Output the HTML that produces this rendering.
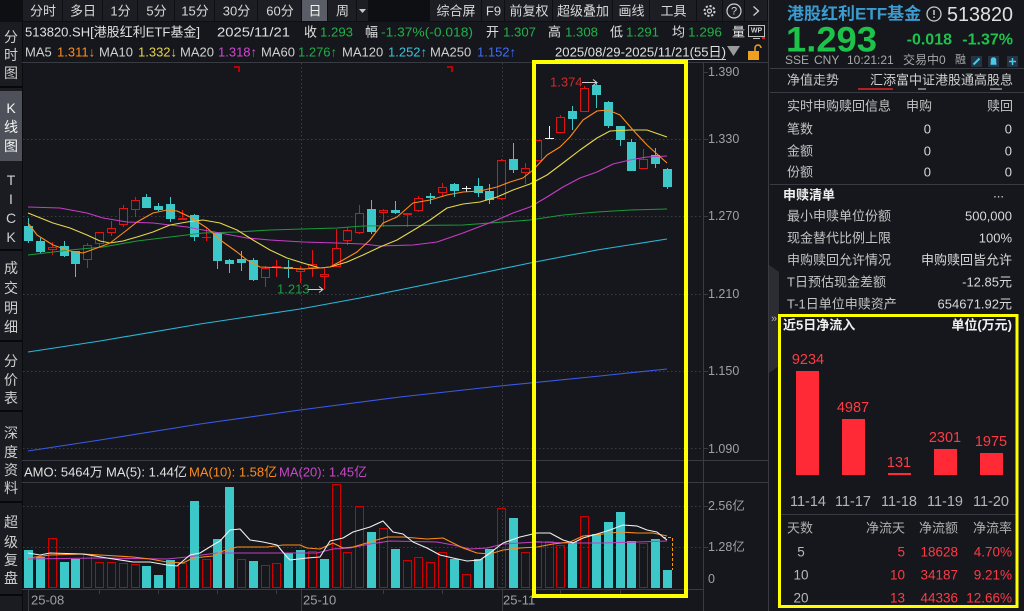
<!DOCTYPE html>
<html><head><meta charset="utf-8">
<style>
html,body{margin:0;padding:0;background:#15171c;overflow:hidden;}
svg{display:block;}
text{font-family:"Liberation Sans","Noto Sans CJK SC",sans-serif;dominant-baseline:central;}
.tb{font-size:13px;fill:#d8d8d8;text-anchor:middle;}
.sb{font-size:14px;fill:#cfcfcf;text-anchor:middle;}
.h{font-size:13px;fill:#e0e0e0;}
.g{fill:#22b04a;}
.ax{font-size:12.5px;fill:#9da0a8;}
.rp{font-size:13px;fill:#c4c4c4;}
.rv{font-size:13px;fill:#d8d8d8;text-anchor:end;}
.red{fill:#ff3a45;}
.grid{stroke:#3a3d45;stroke-width:1;stroke-dasharray:1.5 2.5;fill:none;}
.ln{stroke:#383b42;stroke-width:1;fill:none;}
.cw{stroke:#3cc8c8;stroke-width:1;fill:none;}
.cf{fill:#3cc8c8;}
.rw{stroke:#e01414;stroke-width:1;fill:none;}
.rf{stroke:#e01414;stroke-width:1;fill:#15171c;}
.vr{stroke:#d00000;stroke-width:1;fill:none;}
.ma{fill:none;stroke-width:1.1;stroke-linejoin:round;}
</style></head><body>
<svg width="1024" height="611" viewBox="0 0 1024 611" xmlns="http://www.w3.org/2000/svg">
<rect width="1024" height="611" fill="#15171c"/>

<!-- toolbar -->
<rect x="0" y="0" width="768" height="22" fill="#0e0f12"/>
<g fill="#1c1e23">
<rect x="23" y="0" width="39" height="21"/>
<rect x="63" y="0" width="39" height="21"/>
<rect x="103" y="0" width="34" height="21"/>
<rect x="138" y="0" width="36" height="21"/>
<rect x="175" y="0" width="39" height="21"/>
<rect x="215" y="0" width="42" height="21"/>
<rect x="258" y="0" width="43" height="21"/>
<rect x="328" y="0" width="28" height="21"/>
<rect x="357" y="0" width="11" height="21"/>
<rect x="430" y="0" width="51" height="21"/>
<rect x="482" y="0" width="22" height="21"/>
<rect x="505" y="0" width="47" height="21"/>
<rect x="553" y="0" width="59" height="21"/>
<rect x="613" y="0" width="36" height="21"/>
<rect x="650" y="0" width="46" height="21"/>
<rect x="697" y="0" width="25" height="21"/>
<rect x="723" y="0" width="21" height="21"/>
<rect x="745" y="0" width="22" height="21"/>
</g>
<rect x="302" y="0" width="25" height="21" fill="#5a5d65"/>
<text class="tb" x="43" y="11">分时</text>
<text class="tb" x="83" y="11">多日</text>
<text class="tb" x="120.5" y="11">1分</text>
<text class="tb" x="156.5" y="11">5分</text>
<text class="tb" x="195" y="11">15分</text>
<text class="tb" x="236.5" y="11">30分</text>
<text class="tb" x="280" y="11">60分</text>
<text class="tb" x="315" y="11" style="fill:#f2f2f2">日</text>
<text class="tb" x="342.5" y="11">周</text>
<path d="M359 9H366L362.5 13Z" fill="#c8c8c8"/>
<text class="tb" x="456" y="11">综合屏</text>
<text class="tb" x="493.5" y="11">F9</text>
<text class="tb" x="529" y="11">前复权</text>
<text class="tb" x="583" y="11">超级叠加</text>
<text class="tb" x="631.5" y="11">画线</text>
<text class="tb" x="673.5" y="11">工具</text>
<circle cx="709.5" cy="11" r="5" fill="none" stroke="#d0d0d0" stroke-width="2" stroke-dasharray="2.2 1.7"/>
<circle cx="709.5" cy="11" r="2" fill="none" stroke="#d0d0d0" stroke-width="1.2"/>
<circle cx="734" cy="11" r="7" fill="none" stroke="#d0d0d0" stroke-width="1.2"/>
<text x="734" y="11.5" style="font-size:11px;fill:#d8d8d8;text-anchor:middle">?</text>
<path d="M753.5 6.5L758.5 11L753.5 15.5" fill="none" stroke="#d0d0d0" stroke-width="1.3"/>

<!-- left sidebar -->
<rect x="0" y="22" width="22" height="589" fill="#1a1c21"/>
<rect x="0" y="91" width="22" height="70" fill="#4e5159"/>
<g stroke="#07080a" stroke-width="2">
<path d="M0 87H22M0 250H22M0 341H22M0 411H22M0 502H22M0 595H22"/>
</g>
<path d="M22.5 22V611" stroke="#0a0b0d" stroke-width="1"/>
<text class="sb" x="11" y="37">分</text><text class="sb" x="11" y="55">时</text><text class="sb" x="11" y="73">图</text>
<text class="sb" x="11" y="108" style="fill:#f4f4f4">K</text><text class="sb" x="11" y="127" style="fill:#f4f4f4">线</text><text class="sb" x="11" y="146" style="fill:#f4f4f4">图</text>
<text class="sb" x="11" y="180">T</text><text class="sb" x="11" y="199">I</text><text class="sb" x="11" y="218">C</text><text class="sb" x="11" y="237">K</text>
<text class="sb" x="11" y="268">成</text><text class="sb" x="11" y="288">交</text><text class="sb" x="11" y="308">明</text><text class="sb" x="11" y="327">细</text>
<text class="sb" x="11" y="361">分</text><text class="sb" x="11" y="380">价</text><text class="sb" x="11" y="398">表</text>
<text class="sb" x="11" y="433">深</text><text class="sb" x="11" y="452">度</text><text class="sb" x="11" y="470">资</text><text class="sb" x="11" y="488">料</text>
<text class="sb" x="11" y="522">超</text><text class="sb" x="11" y="542">级</text><text class="sb" x="11" y="560">复</text><text class="sb" x="11" y="578">盘</text>

<!-- header rows -->
<text class="h" x="25" y="32" textLength="175" lengthAdjust="spacingAndGlyphs">513820.SH[港股红利ETF基金]</text>
<text class="h" x="217" y="32" textLength="73" lengthAdjust="spacingAndGlyphs">2025/11/21</text>
<text class="h" x="304" y="32">收</text><text class="h g" x="320" y="32" textLength="33" lengthAdjust="spacingAndGlyphs">1.293</text>
<text class="h" x="365" y="32">幅</text><text class="h g" x="381" y="32" textLength="92" lengthAdjust="spacingAndGlyphs">-1.37%(-0.018)</text>
<text class="h" x="486" y="32">开</text><text class="h g" x="503" y="32" textLength="33" lengthAdjust="spacingAndGlyphs">1.307</text>
<text class="h" x="548" y="32">高</text><text class="h g" x="565" y="32" textLength="33" lengthAdjust="spacingAndGlyphs">1.308</text>
<text class="h" x="610" y="32">低</text><text class="h g" x="626" y="32" textLength="33" lengthAdjust="spacingAndGlyphs">1.291</text>
<text class="h" x="672" y="32">均</text><text class="h g" x="688" y="32" textLength="34" lengthAdjust="spacingAndGlyphs">1.296</text>
<text class="h" x="732" y="32">量</text>
<rect x="748.5" y="25.5" width="16" height="11" fill="none" stroke="#c0c0c0"/>
<text x="756.5" y="31" style="font-size:7px;fill:#d0d0d0;text-anchor:middle;font-weight:bold">WP</text>
<path d="M753 38.5H760" stroke="#c0c0c0"/>
<rect x="762" y="37" width="3" height="2" fill="#e02020"/>

<text class="h" x="25" y="52" style="fill:#d0d0d0">MA5</text><text class="h" x="57" y="52" style="fill:#ff8c1a">1.311↓</text>
<text class="h" x="99" y="52" style="fill:#d0d0d0">MA10</text><text class="h" x="138" y="52" style="fill:#e8d24a">1.332↓</text>
<text class="h" x="180" y="52" style="fill:#d0d0d0">MA20</text><text class="h" x="218" y="52" style="fill:#d048d0">1.318↑</text>
<text class="h" x="261" y="52" style="fill:#d0d0d0">MA60</text><text class="h" x="298" y="52" style="fill:#1fae48">1.276↑</text>
<text class="h" x="342" y="52" style="fill:#d0d0d0">MA120</text><text class="h" x="388" y="52" style="fill:#38c4de">1.252↑</text>
<text class="h" x="430" y="52" style="fill:#d0d0d0">MA250</text><text class="h" x="477" y="52" style="fill:#3f6cff">1.152↑</text>
<text class="h" x="555" y="52" textLength="171" lengthAdjust="spacingAndGlyphs">2025/08/29-2025/11/21(55日)</text>
<path d="M555 59.5H726" stroke="#d0d0d0"/>
<path d="M727 46H740L733.5 56Z" fill="#9a9a9a"/>
<rect x="748" y="51" width="11" height="9" fill="#f0a020"/>
<path d="M755 51V48A3 3 0 0 1 761 48" fill="none" stroke="#f0a020" stroke-width="1.5"/>

<!-- frame lines -->
<path class="ln" d="M22 62.5H768M22 460.5H768M22 482.5H768M22 589.5H703M703.5 62V611M768.5 0V611"/>

<!-- grid -->
<path class="grid" d="M23 139.5H703M23 216.5H703M23 294.5H703M23 371.5H703M23 448.5H703M23 506.5H703M23 547.5H703"/>
<path class="grid" d="M301.5 63V589M502.5 63V589"/>
<path class="ln" d="M703 139.5H708M703 216.5H708M703 294.5H708M703 371.5H708M703 448.5H708M703 72.5H708M703 506.5H708M703 547.5H708"/>

<!-- axis labels -->
<text class="ax" x="708" y="72">1.390</text>
<text class="ax" x="708" y="139">1.330</text>
<text class="ax" x="708" y="216">1.270</text>
<text class="ax" x="708" y="294">1.210</text>
<text class="ax" x="708" y="371">1.150</text>
<text class="ax" x="708" y="449">1.090</text>
<text class="ax" x="708" y="506">2.56亿</text>
<text class="ax" x="708" y="547">1.28亿</text>
<text class="ax" x="708" y="579">0</text>

<!-- date axis -->
<path class="ln" d="M28.5 589V611M301.5 589V611M502.5 589V611M99.5 589V594M158.5 589V594M217.5 589V594M276.5 589V594M383.5 589V594M442.5 589V594M560.5 589V594M620.5 589V594"/>
<text class="ax" x="31" y="600" style="font-size:13px">25-08</text>
<text class="ax" x="303" y="600" style="font-size:13px">25-10</text>
<text class="ax" x="503" y="600" style="font-size:13px">25-11</text>

<!-- markers -->
<path d="M234 66H240V72H238V68H234Z" fill="#c00000"/>
<path d="M447 66H453V72H451V68H447Z" fill="#c00000"/>

<!-- candles: cyan -->
<path class="cw" d="M28.5 218V243M40.5 238V253M64.5 241V257M75.5 251V277M146.5 194V208M158.5 203V211M170.5 197V222M194.5 214V241M217.5 232V269M229.5 259V273M241.5 251V271M253.5 258V281M288.5 260V278M371.5 200V234M395.5 201V214M430.5 193V204M454.5 183V197M478.5 178V197M489.5 184V204M513.5 143V173M572.5 106V130M596.5 82V108M608.5 101V128M620.5 126V146M631.5 139V171M655.5 148V168M667.5 168V189"/>
<g class="cf">
<rect x="24" y="226" width="9" height="15"/>
<rect x="36" y="241" width="9" height="11"/>
<rect x="60" y="246" width="9" height="10"/>
<rect x="71" y="251" width="9" height="13"/>
<rect x="142" y="197" width="9" height="11"/>
<rect x="154" y="206" width="9" height="4"/>
<rect x="166" y="204" width="9" height="15"/>
<rect x="190" y="215" width="9" height="22"/>
<rect x="213" y="233" width="9" height="28"/>
<rect x="225" y="260" width="9" height="4"/>
<rect x="237" y="259" width="9" height="4"/>
<rect x="249" y="260" width="9" height="20"/>
<rect x="284" y="267" width="9" height="2"/>
<rect x="367" y="209" width="9" height="23"/>
<rect x="391" y="210" width="9" height="3"/>
<rect x="426" y="196" width="9" height="2"/>
<rect x="450" y="184" width="9" height="7"/>
<rect x="474" y="186" width="9" height="7"/>
<rect x="485" y="191" width="9" height="9"/>
<rect x="509" y="159" width="9" height="11"/>
<rect x="568" y="111" width="9" height="8"/>
<rect x="592" y="85" width="9" height="10"/>
<rect x="604" y="102" width="9" height="24"/>
<rect x="616" y="126" width="9" height="14"/>
<rect x="627" y="142" width="9" height="29"/>
<rect x="651" y="155" width="9" height="9"/>
<rect x="663" y="169" width="9" height="18"/>
</g>
<!-- candles: red -->
<path class="rw" d="M52.5 242V255M87.5 243V268M99.5 232V247M111.5 221V236M123.5 205V227M135.5 197V217M182.5 210V220M206.5 227V241M265.5 266V287M276.5 260V277M300.5 266V283M312.5 250V277M324.5 268V289M336.5 229V267M347.5 227V245M359.5 205V234M383.5 209V227M407.5 213V227M418.5 196V212M442.5 183V197M501.5 159V200M525.5 163V184M537.5 140V162M560.5 115V133M584.5 86V112M643.5 149V169M202 237.5H211"/>
<g class="rf">
<rect x="48.5" y="247.5" width="8" height="2"/>
<rect x="83.5" y="245.5" width="8" height="14"/>
<rect x="95.5" y="232.5" width="8" height="11"/>
<rect x="107.5" y="228.5" width="8" height="4"/>
<rect x="119.5" y="208.5" width="8" height="16"/>
<rect x="131.5" y="200.5" width="8" height="9"/>
<rect x="178.5" y="218.5" width="8" height="1"/>
<rect x="261.5" y="268.5" width="8" height="9"/>
<rect x="272.5" y="266.5" width="8" height="1"/>
<rect x="296.5" y="269.5" width="8" height="2"/>
<rect x="308.5" y="264.5" width="8" height="3"/>
<rect x="320.5" y="274.5" width="8" height="2"/>
<rect x="332.5" y="248.5" width="8" height="18"/>
<rect x="343.5" y="230.5" width="8" height="10"/>
<rect x="355.5" y="213.5" width="8" height="19"/>
<rect x="379.5" y="210.5" width="8" height="2"/>
<rect x="403.5" y="213.5" width="8" height="1"/>
<rect x="414.5" y="198.5" width="8" height="12"/>
<rect x="438.5" y="187.5" width="8" height="5"/>
<rect x="497.5" y="160.5" width="8" height="38"/>
<rect x="521.5" y="168.5" width="8" height="4"/>
<rect x="533.5" y="140.5" width="8" height="20"/>
<rect x="556.5" y="117.5" width="8" height="15"/>
<rect x="580.5" y="88.5" width="8" height="23"/>
<rect x="639.5" y="159.5" width="8" height="9"/>
</g>
<path d="M466.5 186V192M462 188.5H471M549.5 126V139M545 138.5H554" stroke="#f0f0f0" fill="none"/>

<!-- MA lines -->
<polyline class="ma" stroke="#3a5ae8" points="28,451 100,440 200,424 300,410 400,397 500,386 600,376 667,369"/>
<polyline class="ma" stroke="#2ab8d8" points="28,352 100,341 200,324 300,309 360,298 453,279 530,263 597,250 667,239"/>
<polyline class="ma" stroke="#1a9a3a" points="28,255 70,250 103,247 137,241 170,237 203,233 237,232 270,230 303,229 337,228 363,226 463,225 530,220 563,215 597,212 630,210 667,209"/>
<polyline class="ma" stroke="#c83cc8" points="28,207 60,208 87,213 103,218 127,222 153,223 170,225 187,227 203,230 220,233 247,238 270,240 303,242 337,243 363,244 380,246 413,245 437,242 463,233 497,220 513,213 530,207 547,197 563,187 580,178 597,172 613,164 630,160 647,157 667,156"/>
<polyline class="ma" stroke="#e8d84a" points="28,213 53,223 70,228 87,235 100,241 110,243 123,241 137,237 153,232 170,225 187,222 203,220 220,223 237,230 253,240 270,250 287,258 303,263 320,268 330,267 347,262 363,255 380,247 397,240 417,228 430,220 447,208 463,204 480,202 497,197 513,190 530,184 547,175 563,163 580,150 597,138 610,131 630,130 647,130 667,137"/>
<polyline class="ma" stroke="#ff8c1a" points="28,223 37,235 53,245 70,251 83,253 97,248 110,243 127,230 137,222 153,213 167,210 177,211 190,217 207,228 223,242 237,252 247,260 260,267 287,268 303,269 320,268 330,267 343,260 357,252 370,240 383,223 397,217 413,203 430,200 447,195 463,192 480,191 497,187 510,182 523,178 533,170 547,155 560,147 570,137 583,120 597,111 608,110 620,115 633,130 647,145 667,163"/>

<!-- extreme labels -->
<text x="277" y="289" style="font-size:13px;fill:#1f9e40">1.213</text>
<path d="M308 289.5H323M319 286.5L323 289.5L319 292.5" stroke="#d0d0d0" fill="none"/>
<text x="550" y="82" style="font-size:13px;fill:#d42a2a">1.374</text>
<path d="M582 82.5H597M593 79.5L597 82.5L593 85.5" stroke="#d0d0d0" fill="none"/>

<!-- AMO -->
<text class="h" x="24" y="472" style="fill:#e0e0e0">AMO: 5464万</text>
<text class="h" x="106" y="472" style="fill:#e0e0e0">MA(5): 1.44亿</text>
<text class="h" x="189" y="472" style="fill:#ff8c1a">MA(10): 1.58亿</text>
<text class="h" x="279" y="472" style="fill:#c848c8">MA(20): 1.45亿</text>

<!-- volume bars cyan -->
<g class="cf">
<rect x="24" y="550" width="9" height="38"/>
<rect x="36" y="557" width="9" height="31"/>
<rect x="60" y="562" width="9" height="26"/>
<rect x="71" y="559" width="9" height="29"/>
<rect x="142" y="566" width="9" height="22"/>
<rect x="154" y="575" width="9" height="13"/>
<rect x="166" y="560" width="9" height="28"/>
<rect x="190" y="501" width="9" height="87"/>
<rect x="213" y="539" width="9" height="49"/>
<rect x="225" y="487" width="9" height="101"/>
<rect x="249" y="561" width="9" height="27"/>
<rect x="284" y="553" width="9" height="35"/>
<rect x="296" y="550" width="9" height="38"/>
<rect x="320" y="559" width="9" height="29"/>
<rect x="367" y="532" width="9" height="56"/>
<rect x="391" y="549" width="9" height="39"/>
<rect x="450" y="559" width="9" height="29"/>
<rect x="474" y="559" width="9" height="29"/>
<rect x="485" y="549" width="9" height="39"/>
<rect x="509" y="518" width="9" height="70"/>
<rect x="568" y="542" width="9" height="46"/>
<rect x="592" y="534" width="9" height="54"/>
<rect x="604" y="522" width="9" height="66"/>
<rect x="616" y="512" width="9" height="76"/>
<rect x="627" y="541" width="9" height="47"/>
<rect x="651" y="539" width="9" height="49"/>
<rect x="663" y="570" width="9" height="18"/>
</g>
<g class="vr">
<rect x="48.5" y="538.5" width="8" height="49"/>
<rect x="83.5" y="554.5" width="8" height="33"/>
<rect x="95.5" y="562.5" width="8" height="25"/>
<rect x="107.5" y="562.5" width="8" height="25"/>
<rect x="119.5" y="563.5" width="8" height="24"/>
<rect x="131.5" y="564.5" width="8" height="23"/>
<rect x="178.5" y="563.5" width="8" height="24"/>
<rect x="202.5" y="559.5" width="8" height="28"/>
<rect x="237.5" y="559.5" width="8" height="28"/>
<rect x="261.5" y="565.5" width="8" height="22"/>
<rect x="272.5" y="563.5" width="8" height="24"/>
<rect x="308.5" y="551.5" width="8" height="36"/>
<rect x="332.5" y="484.5" width="8" height="103"/>
<rect x="343.5" y="552.5" width="8" height="35"/>
<rect x="355.5" y="506.5" width="8" height="81"/>
<rect x="379.5" y="528.5" width="8" height="59"/>
<rect x="403.5" y="560.5" width="8" height="27"/>
<rect x="414.5" y="557.5" width="8" height="30"/>
<rect x="426.5" y="562.5" width="8" height="25"/>
<rect x="438.5" y="552.5" width="8" height="35"/>
<rect x="462.5" y="574.5" width="8" height="13"/>
<rect x="497.5" y="508.5" width="8" height="79"/>
<rect x="521.5" y="552.5" width="8" height="35"/>
<rect x="533.5" y="541.5" width="8" height="46"/>
<rect x="545.5" y="541.5" width="8" height="46"/>
<rect x="556.5" y="545.5" width="8" height="42"/>
<rect x="580.5" y="516.5" width="8" height="71"/>
<rect x="639.5" y="543.5" width="8" height="44"/>
</g>
<path d="M663 537.5H672.5V570" fill="none" stroke="#ff9a00" stroke-dasharray="3 2"/>

<!-- volume MAs -->
<polyline class="ma" stroke="#c040c0" points="28,559 100,558 167,559 187,557 217,553 267,553 317,553 333,549 350,548 370,544 390,541 437,542 453,545 470,549 487,548 503,544 537,542 570,543 603,543 637,542 667,541"/>
<polyline class="ma" stroke="#ff8c1a" points="28,558 50,555 83,554 100,555 133,557 150,559 167,562 183,563 193,558 213,556 223,551 237,547 267,547 283,545 300,545 307,548 320,549 333,543 343,548 353,547 370,542 387,537 403,537 427,539 443,538 453,543 463,548 477,553 490,554 503,550 520,548 537,547 553,544 570,542 583,536 603,534 620,532 637,533 653,533 667,536"/>
<polyline class="ma" stroke="#f0f0f0" points="28,553 40,555 50,553 83,554 107,558 133,562 150,562 167,565 177,566 190,555 200,553 213,545 220,541 230,530 240,529 250,540 263,542 277,545 287,557 290,560 307,558 320,557 330,541 343,538 353,532 370,527 383,521 393,532 403,534 413,542 427,548 440,555 453,558 467,561 480,560 490,553 503,543 520,537 537,533 550,533 563,540 573,543 583,538 597,534 610,530 623,525 637,526 647,530 657,532 663,537 667,540"/>

<!-- collapse tab -->
<path d="M769 265L779 272V366L769 373Z" fill="#2b2d33"/>
<text x="774" y="319" style="font-size:11px;fill:#b0b0b0;text-anchor:middle">»</text>

<!-- right panel -->
<text x="787" y="14" style="font-size:17px;font-weight:bold;fill:#3b9bd0">港股红利ETF基金</text>
<circle cx="934" cy="14" r="7" fill="none" stroke="#c8c8c8" stroke-width="1.3"/>
<path d="M934 10V15M934 16.5V18" stroke="#c8c8c8" stroke-width="1.5"/>
<text x="947" y="15" style="font-size:20px;fill:#e0e0e0" textLength="66" lengthAdjust="spacingAndGlyphs">513820</text>
<text x="786" y="40" style="font-size:35px;font-weight:bold;fill:#1dc24b" textLength="91" lengthAdjust="spacingAndGlyphs">1.293</text>
<text x="952" y="40" style="font-size:16px;font-weight:bold;fill:#1dc24b;text-anchor:end">-0.018</text>
<text x="1013" y="40" style="font-size:16px;font-weight:bold;fill:#1dc24b;text-anchor:end">-1.37%</text>
<text x="785" y="60" style="font-size:12px;fill:#a8a8a8">SSE</text>
<text x="814" y="60" style="font-size:12px;fill:#a8a8a8">CNY</text>
<text x="847" y="60" style="font-size:12px;fill:#a8a8a8">10:21:21</text>
<text x="903" y="60" style="font-size:12px;fill:#a8a8a8">交易中0</text>
<text x="955" y="60" style="font-size:11px;fill:#a8a8a8">融</text>
<rect x="971" y="56" width="11" height="11" fill="#243444"/>
<rect x="988" y="56" width="11" height="11" fill="#243444"/>
<rect x="1007" y="56" width="11" height="11" fill="#243444"/>
<path d="M973.5 64.5L979.5 58.5" stroke="#4ac8e8" stroke-width="2"/>
<path d="M990.5 64H996.5M991.5 64V60A2 2 0 0 1 995.5 60V64" stroke="#4ac8e8" stroke-width="1.5" fill="#4ac8e8"/>
<path d="M1012.5 58V65M1009 61.5H1016" stroke="#4ac8e8" stroke-width="1.5"/>
<path class="ln" d="M770 68.5H1024M770 92.5H1024M770 184.5H1024"/>
<rect x="858" y="88" width="35" height="2" fill="#b02020"/>
<rect x="918" y="88" width="8" height="2" fill="#777"/>
<rect x="990" y="88" width="12" height="2" fill="#777"/>

<text class="rp" x="787" y="80">净值走势</text>
<text class="rv" x="1013" y="80" style="fill:#d0d0d0">汇添富中证港股通高股息</text>
<text class="rp" x="787" y="106">实时申购赎回信息</text>
<text class="rv" x="932" y="106" style="fill:#c4c4c4">申购</text>
<text class="rv" x="1013" y="106" style="fill:#c4c4c4">赎回</text>
<text class="rp" x="787" y="129">笔数</text><text class="rv" x="931" y="129">0</text><text class="rv" x="1012" y="129">0</text>
<text class="rp" x="787" y="151">金额</text><text class="rv" x="931" y="151">0</text><text class="rv" x="1012" y="151">0</text>
<text class="rp" x="787" y="172">份额</text><text class="rv" x="931" y="172">0</text><text class="rv" x="1012" y="172">0</text>
<text x="783" y="195" style="font-size:13px;font-weight:bold;fill:#f0f0f0">申赎清单</text>
<text class="rv" x="1004" y="193">...</text>
<text class="rp" x="787" y="216">最小申赎单位份额</text><text class="rv" x="1012" y="216">500,000</text>
<text class="rp" x="787" y="238">现金替代比例上限</text><text class="rv" x="1012" y="238">100%</text>
<text class="rp" x="787" y="260">申购赎回允许情况</text><text class="rv" x="1012" y="260">申购赎回皆允许</text>
<text class="rp" x="787" y="282">T日预估现金差额</text><text class="rv" x="1012" y="282">-12.85元</text>
<text class="rp" x="787" y="304">T-1日单位申赎资产</text><text class="rv" x="1012" y="304">654671.92元</text>

<!-- net inflow box -->
<text x="783" y="325" style="font-size:13px;font-weight:bold;fill:#f0f0f0">近5日净流入</text>
<text x="1012" y="325" style="font-size:13px;font-weight:bold;fill:#f0f0f0;text-anchor:end">单位(万元)</text>
<g fill="#ff2a35">
<rect x="796" y="371" width="23" height="104"/>
<rect x="842" y="419" width="23" height="56"/>
<rect x="888" y="473" width="23" height="2"/>
<rect x="934" y="449" width="23" height="26"/>
<rect x="980" y="453" width="23" height="22"/>
</g>
<g style="font-size:14.5px;fill:#ff3a45;text-anchor:middle">
<text x="808" y="360">9234</text>
<text x="853" y="408">4987</text>
<text x="899" y="463">131</text>
<text x="945" y="438">2301</text>
<text x="991" y="442">1975</text>
</g>
<g style="font-size:14.5px;fill:#b4b4b4;text-anchor:middle">
<text x="808" y="502">11-14</text>
<text x="853" y="502">11-17</text>
<text x="899" y="502">11-18</text>
<text x="945" y="502">11-19</text>
<text x="991" y="502">11-20</text>
</g>
<path class="ln" d="M781 514.5H1016"/>
<text x="787" y="528" style="font-size:13px;fill:#b0b0b0">天数</text>
<text x="905" y="528" style="font-size:13px;fill:#b0b0b0;text-anchor:end">净流天</text>
<text x="958" y="528" style="font-size:13px;fill:#b0b0b0;text-anchor:end">净流额</text>
<text x="1012" y="528" style="font-size:13px;fill:#b0b0b0;text-anchor:end">净流率</text>
<g style="font-size:13.5px;fill:#b8b8b8;text-anchor:middle">
<text x="801" y="552">5</text><text x="801" y="575">10</text><text x="801" y="598">20</text>
</g>
<g style="font-size:13.5px;fill:#ff3a45;text-anchor:end">
<text x="905" y="552">5</text><text x="958" y="552">18628</text><text x="1012" y="552">4.70%</text>
<text x="905" y="575">10</text><text x="958" y="575">34187</text><text x="1012" y="575">9.21%</text>
<text x="905" y="598">13</text><text x="958" y="598">44336</text><text x="1012" y="598">12.66%</text>
</g>

<!-- yellow annotation boxes -->
<rect x="534" y="62" width="152" height="534" fill="none" stroke="#ffff00" stroke-width="4"/>
<rect x="779.5" y="315.5" width="237.5" height="291" fill="none" stroke="#ffff00" stroke-width="3"/>
</svg>
</body></html>
